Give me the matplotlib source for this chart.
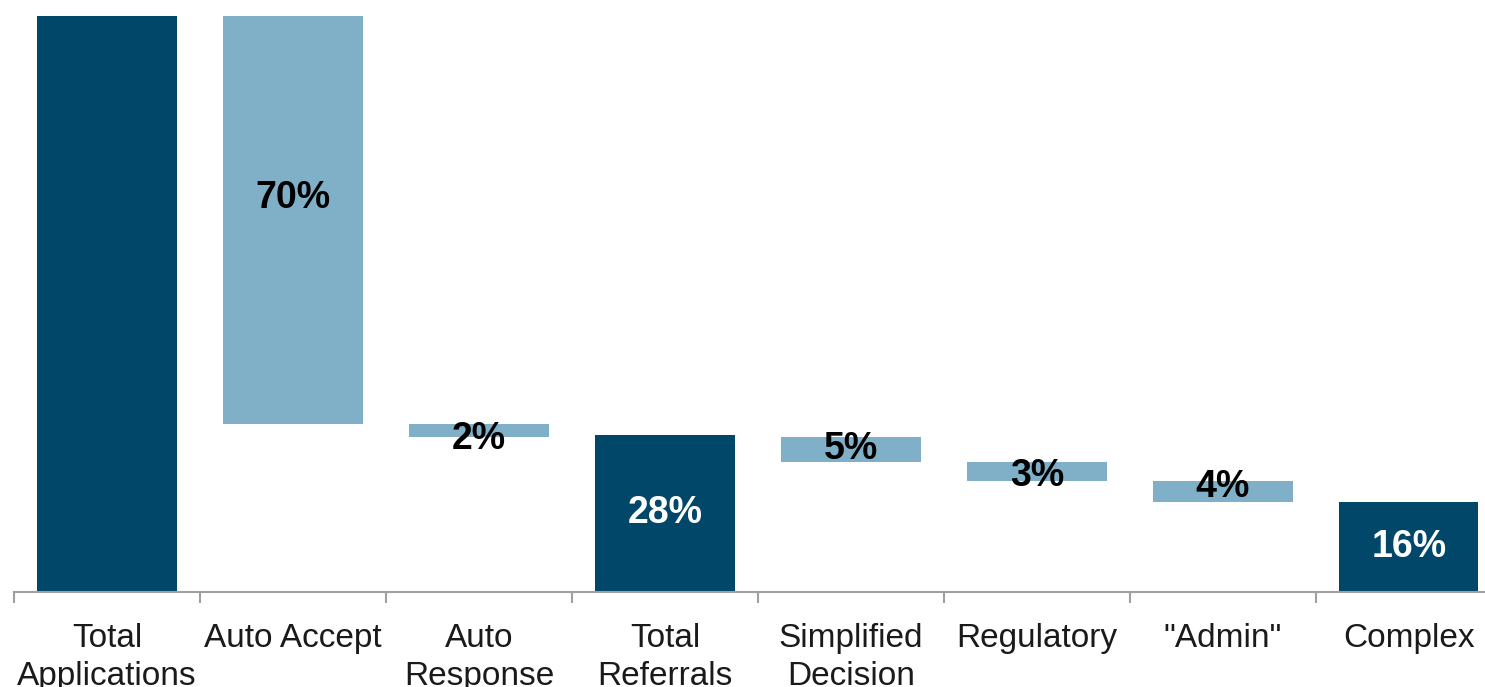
import numpy as np
import matplotlib
matplotlib.use('Agg')
import matplotlib.pyplot as plt

plt.rcParams['font.family'] = ['Liberation Sans', 'DejaVu Sans']

categories = ['Total\nApplications', 'Auto Accept', 'Auto\nResponse', 'Total\nReferrals',
              'Simplified\nDecision', 'Regulatory', '"Admin"', 'Complex']
kinds = ['total', 'drop', 'drop', 'total', 'drop', 'drop', 'drop', 'total']
values = [100, 70.9, 2.2, 27.2, 4.4, 3.3, 3.6, 15.6]
value_labels = ['', '70%', '2%', '28%', '5%', '3%', '4%', '16%']

dark = '#01476a'
light = '#80b0c8'

# waterfall: drops hang from the running level, totals sit on zero
bottoms, heights, colors = [], [], []
level = 0.0
for k, v in zip(kinds, values):
    if k == 'total':
        bottoms.append(0)
        heights.append(v)
        colors.append(dark)
        if level == 0:
            level = v
    else:
        level -= v
        bottoms.append(level)
        heights.append(v)
        colors.append(light)

fig = plt.figure(figsize=(14.85, 6.87), dpi=100)
ax = fig.add_axes([14 / 1485, 95.3 / 687, 1471 / 1485, 576.2 / 687])

x = np.arange(len(categories))
ax.bar(x, heights, bottom=bottoms, width=0.75, color=colors, edgecolor='none')

# label positions (nudge in points, the big one sits a bit above centre)
nudge = {1: 16, 2: -6, 5: -3, 6: 3}
for i, lab in enumerate(value_labels):
    if not lab:
        continue
    ymid = bottoms[i] + heights[i] / 2
    col = 'white' if kinds[i] == 'total' else 'black'
    ax.annotate(lab, (x[i], ymid), xytext=(0, nudge.get(i, 0)), textcoords='offset points',
                ha='center', va='center', fontsize=27, fontweight='bold', color=col)

ax.set_xlim(-0.5, 7.41)
ax.set_ylim(0, 100)

for s in ['top', 'right', 'left']:
    ax.spines[s].set_visible(False)
ax.spines['bottom'].set_color('#a0a0a0')
ax.spines['bottom'].set_linewidth(1.5)
ax.set_yticks([])

ax.set_xticks(x)
ax.set_xticklabels(categories, fontsize=24, color='#1a1a1a', linespacing=1.3)
ax.tick_params(axis='x', which='major', length=0, pad=22.5)
ax.set_xticks(np.arange(len(categories)) - 0.5, minor=True)
ax.tick_params(axis='x', which='minor', length=8, width=1.5, color='#a0a0a0')

fig.savefig('out.png', dpi=100)
